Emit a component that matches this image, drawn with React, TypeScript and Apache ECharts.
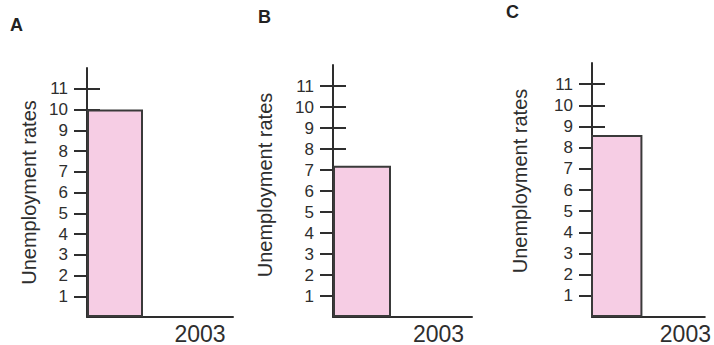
import React, { useEffect, useRef } from "react";
import * as echarts from "echarts";

const categories = ["2003"];
const panelLetters = ["A", "B", "C"];
const ratesA = [10];
const ratesB = [7.2];
const ratesC = [8.6];
const yTickValues = [1, 2, 3, 4, 5, 6, 7, 8, 9, 10, 11];
const yAxisTitle = "Unemployment rates";
const yMin = 0;
const yMax = 12;

const FONT = "'Liberation Sans', Arial, sans-serif";
const INK = "#2e2e2e";
const PINK = "#f6cde4";

const panels = [
  { values: ratesA, left: 87, right: 233, top: 68, bottom: 320, barW: 56, labelShift: 40, nameGap: 48, nameLift: 0, letterX: 10, letterY: 16 },
  { values: ratesB, left: 333, right: 472, top: 65, bottom: 317, barW: 58, labelShift: 36, nameGap: 58, nameLift: 6, letterX: 258, letterY: 8 },
  { values: ratesC, left: 592, right: 714, top: 63, bottom: 320, barW: 55, labelShift: 37, nameGap: 62, nameLift: 9, letterX: 506, letterY: 3 },
];

export default function App() {
  const ref = useRef<HTMLDivElement>(null);
  useEffect(() => {
    if (!ref.current) return;
    const chart = echarts.init(ref.current, undefined, { renderer: "svg" });
    const grids: any[] = [];
    const xAxes: any[] = [];
    const yAxes: any[] = [];
    const series: any[] = [];
    const graphics: any[] = [];
    panels.forEach((p, i) => {
      const axisLen = p.right - p.left;
      grids.push({ left: p.left, top: p.top, width: axisLen, height: p.bottom - p.top, containLabel: false });
      xAxes.push({
        type: "category",
        gridIndex: i,
        data: categories,
        boundaryGap: true,
        axisLine: { show: true, lineStyle: { color: INK, width: 2 } },
        axisTick: { show: false },
        axisLabel: {
          show: true,
          color: INK,
          fontFamily: FONT,
          fontSize: 23,
          margin: 5,
          padding: [0, 0, 0, p.labelShift * 2],
        },
        splitLine: { show: false },
      });
      yAxes.push({
        type: "value",
        gridIndex: i,
        min: yMin,
        max: yMax,
        interval: 1,
        name: yAxisTitle,
        nameLocation: "middle",
        nameRotate: 90,
        nameGap: p.nameGap,
        nameTextStyle: { color: INK, fontFamily: FONT, fontSize: 20, padding: [0, 0, 0, p.nameLift * 2] },
        axisLine: { show: true, lineStyle: { color: INK, width: 2 } },
        axisTick: { show: true, length: 13, inside: false, customValues: yTickValues, lineStyle: { color: INK, width: 2 } },
        axisLabel: {
          show: true,
          color: INK,
          fontFamily: FONT,
          fontSize: 17,
          margin: 19,
          showMinLabel: false,
          showMaxLabel: false,
          formatter: (v: number) => (yTickValues.indexOf(v) >= 0 ? String(v) : ""),
        },
        splitLine: { show: false },
      });
      yAxes.push({
        type: "value",
        gridIndex: i,
        min: yMin,
        max: yMax,
        interval: 1,
        position: "left",
        axisLine: { show: false },
        axisTick: { show: true, length: 13, inside: true, customValues: yTickValues, lineStyle: { color: INK, width: 2 } },
        axisLabel: { show: false },
        splitLine: { show: false },
      });
      series.push({
        type: "bar",
        xAxisIndex: i,
        yAxisIndex: i * 2,
        data: p.values,
        barWidth: p.barW,
        barGap: "0%",
        itemStyle: { color: PINK, borderColor: "#3a3a3a", borderWidth: 2 },
        z: 1,
      });
      series.push({
        type: "bar",
        xAxisIndex: i,
        yAxisIndex: i * 2,
        data: p.values.map(() => 0),
        barWidth: axisLen - p.barW,
        barGap: "0%",
        silent: true,
        itemStyle: { color: "transparent" },
      });
      graphics.push({
        type: "text",
        x: p.letterX,
        y: p.letterY,
        style: { text: panelLetters[i], fill: "#222", font: `bold 18px ${FONT}`, textVerticalAlign: "top" },
      });
    });
    chart.setOption({
      animation: false,
      backgroundColor: "#ffffff",
      grid: grids,
      xAxis: xAxes,
      yAxis: yAxes,
      series,
      graphic: graphics,
    });
    return () => chart.dispose();
  }, []);
  return (
    <div
      ref={ref}
      style={{ position: "fixed", left: 0, top: 0, width: 714, height: 345, background: "#fff" }}
    />
  );
}
